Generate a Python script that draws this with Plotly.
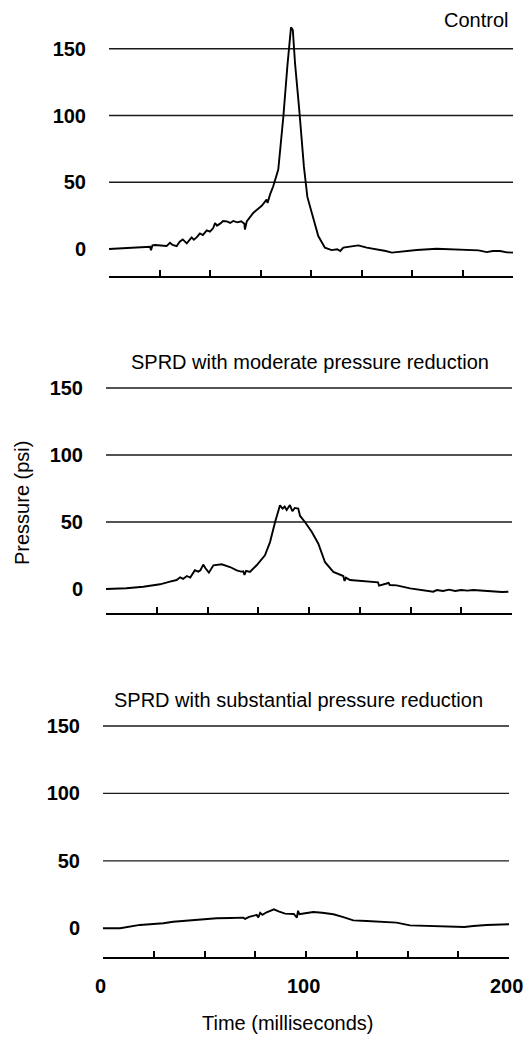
import plotly.graph_objects as go

# ---------------- data ----------------
control_t = [0, 12, 20.3, 20.8, 21.5, 22.8, 28.5, 30.2, 31.5, 33.5, 35.0, 36.5, 38.5, 40.9, 42.0, 43.4,
             45.0, 46.5, 48.4, 50.0, 51.6, 52.5, 53.5, 55.0, 56.5, 58.3, 60.0, 61.5, 63.5, 65.5, 67.0, 67.3,
             68.2, 71.4, 75.6, 78.0, 78.5, 79.7, 81.3, 83.8, 86.3, 88.3, 90.1, 91.0, 92.1, 94.2, 96.5, 98.2,
             100.3, 103.6, 106.9, 110.2, 113.0, 114.5, 116.0, 119.0, 123.4, 127.6, 130.0, 134.2, 137.0, 140.0,
             145.0, 152.3, 162.2, 170.0, 177.0, 183.0, 187.0, 190.0, 193.6, 197.0, 200.0]
control_p = [0, 1.0, 1.7, -1.0, 2.8, 3.0, 2.2, 4.7, 3.0, 2.2, 5.5, 7.2, 4.2, 8.7, 7.0, 8.7,
             11.7, 10.5, 13.9, 13.0, 15.7, 19.5, 17.5, 19.0, 21.0, 20.7, 19.5, 21.0, 20.0, 20.8, 19.0, 14.5,
             20.7, 27.0, 32.4, 37.0, 34.5, 40.7, 47.0, 59.5, 99.0, 137.0, 166.0, 164.0, 139.0, 104.0, 61.5, 39.0,
             27.0, 9.7, 1.0, -0.8, -0.2, -1.5, 1.0, 1.5, 2.7, 1.0, 0.5, -0.8, -1.5, -2.7,
             -1.8, -0.8, 0.2, -0.2, -0.3, -1.0, -2.3, -1.5, -1.5, -2.5, -2.7]

moderate_t = [0, 10.0, 18.4, 26.6, 31.5, 34.8, 36.5, 38.0, 39.8, 41.5, 43.8, 45.5, 46.5, 47.9, 49.0, 50.7,
              52.9, 57.0, 61.1, 64.4, 66.5, 67.6, 68.2, 69.0, 70.9, 74.2, 78.3, 80.8, 83.3, 85.7, 87.0, 88.0,
              89.0, 90.6, 91.8, 93.0, 94.7, 95.6, 98.0, 101.4, 104.6, 107.9, 112.0, 116.9, 117.5, 118.2,
              120.2, 125.0, 130.0, 134.0, 134.5, 138.3, 139.2, 139.8, 143.2, 149.8, 155.0, 161.2, 163.0,
              166.0, 169.0, 172.0, 175.0, 178.0, 180.9, 184.0, 187.0, 192.5, 195.0, 198.2]
moderate_p = [0, 0.6, 1.7, 3.5, 5.5, 6.7, 8.7, 7.5, 9.7, 8.5, 14.0, 13.0, 14.0, 18.2, 15.5, 12.2,
              17.7, 18.4, 16.4, 13.9, 13.0, 13.2, 10.5, 13.5, 12.7, 17.7, 25.1, 35.0, 50.0, 62.4, 60.0, 61.5,
              59.0, 62.7, 58.0, 60.5, 60.0, 54.5, 50.0, 42.5, 33.8, 20.0, 12.7, 9.7, 6.0, 8.5,
              6.7, 6.0, 5.5, 5.0, 2.5, 3.7, 4.5, 3.0, 2.7, 0.5, -0.5, -2.0, -0.8,
              -1.5, -0.5, -1.5, -0.8, -1.2, -0.7, -1.0, -1.5, -2.0, -2.2, -2.0]

substantial_t = [0, 8.4, 18.2, 29.7, 34.6, 44.5, 56.0, 63.0, 69.1, 70.0, 72.0, 75.7, 76.5, 77.4, 78.5,
                 80.6, 84.2, 86.5, 89.7, 94.0, 95.5, 96.1, 96.8, 98.0, 103.6, 108.0, 113.5, 118.0, 123.3,
                 129.9, 137.0, 144.6, 151.2, 162.7, 172.6, 178.0, 182.4, 189.0, 200.0]
substantial_p = [0, 0, 2.5, 3.7, 4.9, 6.2, 7.4, 7.6, 7.9, 7.0, 8.5, 9.9, 8.0, 11.5, 10.0,
                 11.9, 14.1, 12.5, 10.9, 10.6, 8.0, 13.0, 10.4, 10.8, 12.1, 11.5, 10.4, 8.5, 5.9,
                 5.4, 4.8, 4.2, 2.2, 1.7, 1.0, 1.0, 1.7, 2.5, 3.0]

panel_titles = ["Control", "SPRD with moderate pressure reduction", "SPRD with substantial pressure reduction"]
y_ticks = [0, 50, 100, 150]
grid_levels = [50, 100, 150]
x_ticks = [0, 25, 50, 75, 100, 125, 150, 175, 200]
x_label_vals = [0, 100, 200]
x_label_text = ["0", "100", "200"]
y_title = "Pressure (psi)"
x_title = "Time (milliseconds)"

# ---------------- layout geometry (viewport pixels) ----------------
OFF = 8  # default page body margin
W, H = 532 - 2 * OFF, 1042 - 2 * OFF   # fit inside the window: no scrollbars
FONT = "Liberation Sans, Arial, sans-serif"
# (zero pixel row, px per psi, ymin, ymax, x-left px, x-right px)  -- viewport coords
panels = [
    (249.0, 1.335, -20.2, 172, 109, 513),
    (589.0, 1.340, -17.7, 160, 106, 512),
    (928.3, 1.349, -21.0, 160, 103, 509),
]
series = [(control_t, control_p), (moderate_t, moderate_p), (substantial_t, substantial_p)]


def fx(px):
    return (px - OFF) / W


def fy(py):
    return 1 - (py - OFF) / H


fig = go.Figure()
layout = dict(width=W, height=H, margin=dict(l=0, r=0, t=0, b=0),
              paper_bgcolor="white", plot_bgcolor="white", showlegend=False)

for i, ((zero, ppu, ymin, ymax, xl, xr), (t, p)) in enumerate(zip(panels, series)):
    n = "" if i == 0 else str(i + 1)
    bottom_px = zero - ymin * ppu
    top_px = zero - ymax * ppu
    ydom = [fy(bottom_px), fy(top_px)]
    xdom = [fx(xl), fx(xr)]
    fig.add_trace(go.Scatter(x=t, y=p, mode="lines", line=dict(color="black", width=1.9),
                             xaxis="x" + n, yaxis="y" + n, hoverinfo="skip"))
    layout["xaxis" + n] = dict(domain=xdom, range=[0, 200], anchor="y" + n,
                               showline=True, linecolor="black", linewidth=1.6,
                               ticks="inside", ticklen=6, tickwidth=1.6, tickcolor="black",
                               tickvals=x_ticks, showgrid=False, zeroline=False,
                               showticklabels=False, automargin=False)
    layout["yaxis" + n] = dict(domain=ydom, range=[ymin, ymax], anchor="x" + n,
                               showline=False, showgrid=False, zeroline=False, ticks="",
                               tickvals=y_ticks, ticklabelstandoff=22, automargin=False,
                               tickfont=dict(family=FONT, size=20, color="black", weight="bold"))
    for g in grid_levels:
        fig.add_shape(type="line", xref="x" + n, yref="y" + n, x0=0, x1=200.5, y0=g, y1=g,
                      line=dict(color="#1a1a1a", width=1.4), layer="below")

fig.update_layout(**layout)

ann = []
ann.append(dict(text=panel_titles[0], x=fx(510), y=fy(20), xanchor="right", yanchor="middle"))
ann.append(dict(text=panel_titles[1], x=fx(310), y=fy(361.7), xanchor="center", yanchor="middle"))
ann.append(dict(text=panel_titles[2], x=fx(298), y=fy(700), xanchor="center", yanchor="middle"))
ann.append(dict(text=y_title, x=fx(22), y=fy(503), xanchor="center", yanchor="middle", textangle=-90))
ann.append(dict(text=x_title, x=fx(288), y=fy(1023), xanchor="center", yanchor="middle"))
for a in ann:
    a.update(xref="paper", yref="paper", showarrow=False,
             font=dict(family=FONT, size=20, color="black"))
# bottom x tick labels (as annotations so the last one is not dropped at the edge)
for v, txt in zip(x_label_vals, x_label_text):
    ann.append(dict(text=txt, x=v, xref="x3", y=fy(985.7), yref="paper", xanchor="center",
                    yanchor="middle", xshift=-3, showarrow=False,
                    font=dict(family=FONT, size=20, color="black", weight="bold")))
fig.update_layout(annotations=ann)

fig.write_html("out.html")
